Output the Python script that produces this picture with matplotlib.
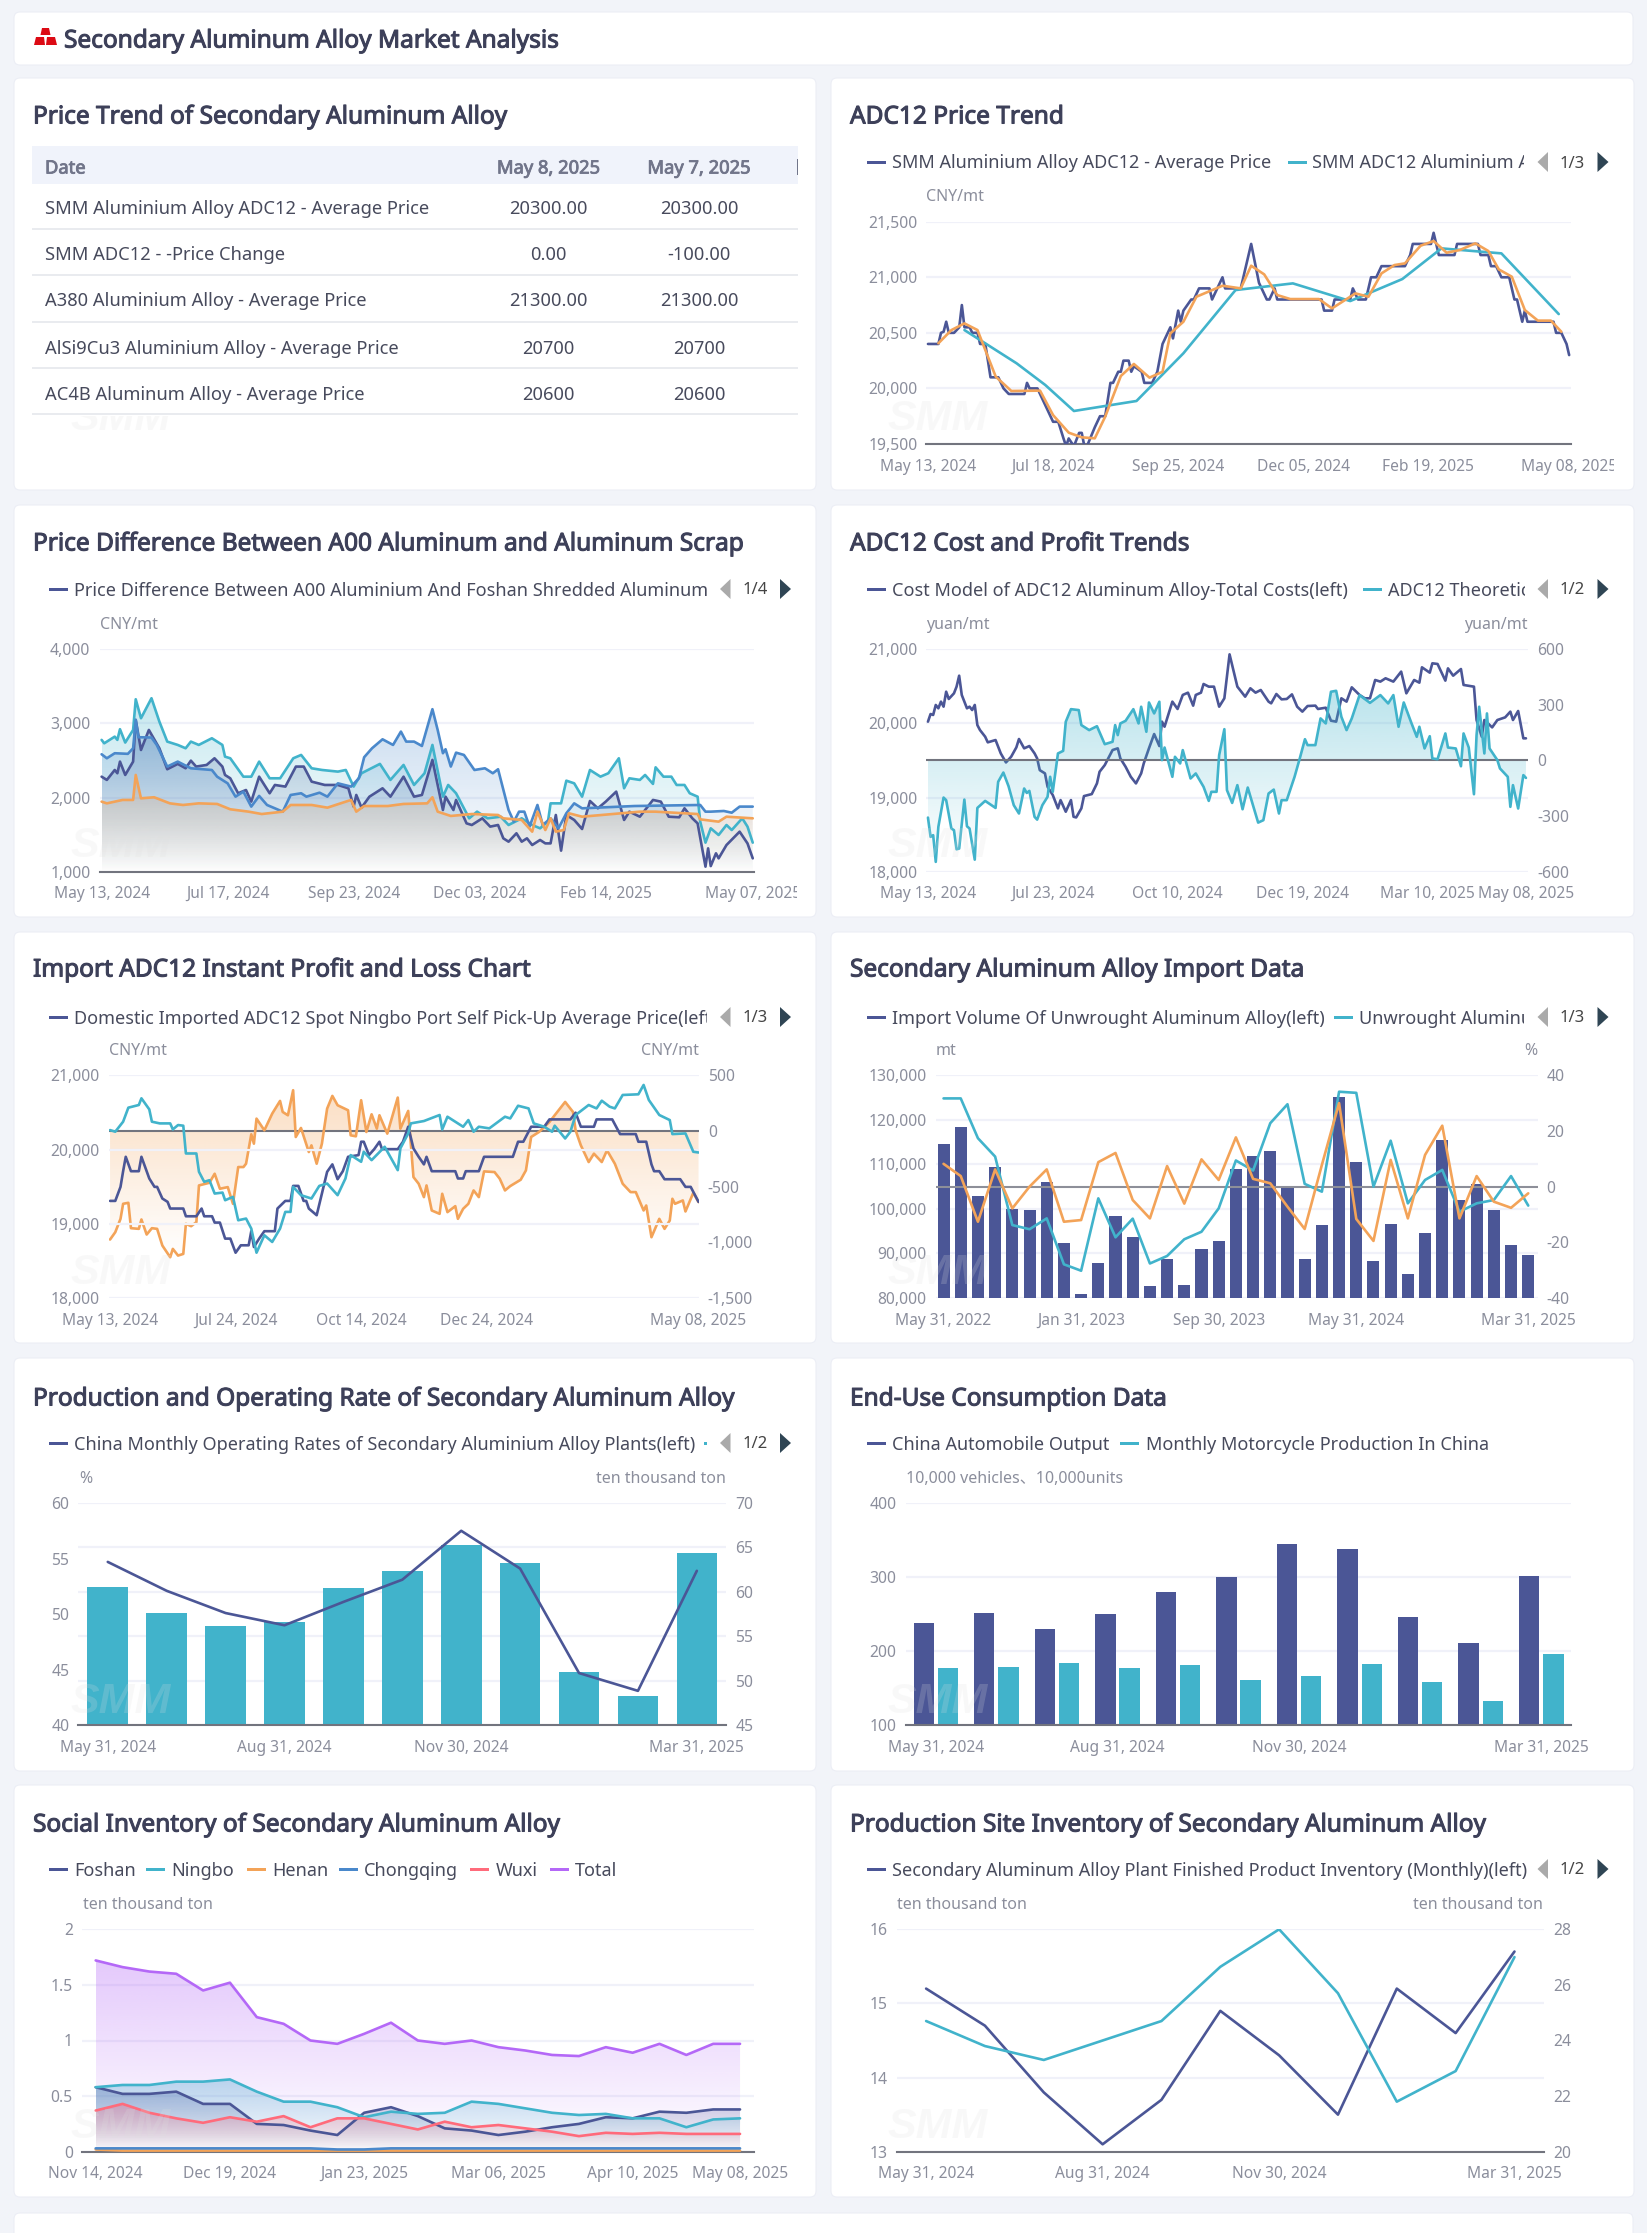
import numpy as np
import matplotlib
matplotlib.use("Agg")
import matplotlib.pyplot as plt
import matplotlib.patheffects as pe
from matplotlib.patches import FancyBboxPatch, Polygon, Rectangle
from matplotlib.colors import to_rgb
from matplotlib.transforms import Bbox

W, H = 1647, 2233
plt.rcParams['font.family'] = ['Noto Sans', 'Noto Sans CJK SC', 'DejaVu Sans']

NAVY = '#4b5696'
TEAL = '#41b3cb'
ORANGE = '#f3a358'
BLUE = '#4a88cb'
RED = '#ff6b7b'
PURPLE = '#b468f7'
GRID = '#f0f1f9'
AXIS = '#72747e'
TICK = '#8b8e9c'
TXT = '#474a5c'
TITLE = '#3d4059'

# table
table_head = ['Date', 'May 8, 2025', 'May 7, 2025']
table_names = ['SMM Aluminium Alloy ADC12 - Average Price', 'SMM ADC12 - -Price Change',
               'A380 Aluminium Alloy - Average Price', 'AlSi9Cu3 Aluminium Alloy - Average Price',
               'AC4B Aluminum Alloy - Average Price']
table_may8 = ['20300.00', '0.00', '21300.00', '20700', '20600']
table_may7 = ['20300.00', '-100.00', '21300.00', '20700', '20600']

# ADC12 price trend: (trading day, price)
c1_ticks = [0, 48, 96, 144, 192, 246]
c1_labels = ['May 13, 2024', 'Jul 18, 2024', 'Sep 25, 2024', 'Dec 05, 2024', 'Feb 19, 2025', 'May 08, 2025']
c1_daily = [(0,20400),(4,20400),(5,20500),(6,20510),(7,20600),(8,20500),(10,20500),(12,20550),(13,20750),(14,20550),(16,20550),(17,20500),(19,20500),(20,20400),(22,20400),(23,20250),(24,20100),(27,20100),(29,20000),(31,19950),(37,19950),(38,20050),(39,20000),(42,20000),(44,19900),(46,19800),(48,19700),(50,19700),(52,19550),(53,19480),(54,19550),(56,19480),(58,19600),(59,19600),(60,19480),(61,19480),(64,19650),(66,19750),(68,19750),(70,20050),(71,20050),(73,20150),(74,20150),(75,20250),(77,20250),(78,20150),(79,20200),(82,20150),(83,20050),(86,20050),(88,20150),(90,20400),(93,20550),(94,20450),(96,20700),(97,20600),(98,20700),(101,20800),(102,20800),(104,20900),(108,20900),(109,20800),(111,20900),(113,21000),(114,20900),(120,20900),(124,21300),(127,20950),(130,20800),(131,20800),(133,20900),(134,20800),(151,20800),(152,20700),(155,20700),(156,20800),(162,20800),(163,20900),(165,20800),(168,20800),(170,21000),(172,21000),(174,21100),(183,21100),(185,21200),(186,21300),(193,21300),(194,21400),(196,21200),(202,21200),(203,21300),(211,21300),(212,21200),(215,21200),(216,21100),(218,21100),(220,21000),(223,21000),(225,20800),(226,20800),(228,20600),(229,20700),(230,20600),(240,20600),(241,20500),(243,20500),(245,20400),(246,20300)]
c1_monthly = [(14,20525),(34,20226),(45,20031),(56,19797),(80,19887),(98,20316),(118,20885),(140,20945),(162,20786),(182,20984),(197,21260),(220,21215),(242,20669)]
c1_weekly = [(4,20406),(9,20525),(14,20585),(19,20525),(26,20106),(32,19977),(43,19980),(48,19760),(54,19602),(59,19560),(64,19551),(68,19746),(74,20112),(79,20220),(85,20097),(90,20150),(93,20495),(98,20600),(103,20825),(113,20924),(120,20900),(124,21104),(129,21026),(134,20840),(139,20804),(150,20804),(155,20720),(164,20855),(169,20825),(174,21035),(179,21110),(183,21125),(189,21284),(194,21326),(199,21221),(204,21245),(210,21305),(215,21236),(219,21071),(224,21005),(229,20705),(234,20610),(239,20610),(243,20510)]

# A00 vs scrap price difference
c2_ticks = [0, 48, 96, 144, 192, 248]
c2_labels = ['May 13, 2024', 'Jul 17, 2024', 'Sep 23, 2024', 'Dec 03, 2024', 'Feb 14, 2025', 'May 07, 2025']
c2_navy = [(0,2282),(2,2238),(5,2372),(6,2328),(7,2485),(9,2305),(12,2485),(13,3048),(15,2642),(18,2912),(22,2665),(25,2382),(29,2454),(32,2395),(34,2498),(36,2418),(40,2440),(43,2530),(46,2418),(47,2305),(49,2260),(52,2058),(55,2102),(57,1945),(60,2282),(64,2058),(66,2170),(70,2148),(74,2418),(77,2418),(80,2215),(85,2170),(90,2170),(94,2125),(96,1878),(97,2035),(99,1864),(102,2012),(107,2125),(110,2012),(115,2282),(119,2012),(122,2035),(126,2508),(130,1832),(131,2012),(134,1832),(135,1968),(139,1652),(141,1630),(145,1720),(148,1608),(151,1630),(153,1450),(155,1405),(158,1518),(160,1405),(162,1450),(164,1360),(167,1428),(169,1382),(171,1382),(173,1765),(175,1284),(177,1765),(180,1698),(183,1576),(186,1954),(189,1855),(192,1945),(196,2080),(199,1698),(201,1810),(205,1742),(210,1968),(213,1945),(216,1742),(220,1734),(222,1855),(225,1720),(227,1652),(230,1068),(231,1315),(232,1076),(234,1248),(235,1180),(238,1360),(243,1540),(246,1382),(248,1180)]
c2_teal = [(0,2778),(1,2732),(5,2822),(6,2778),(7,2922),(9,2742),(12,2912),(13,3326),(15,3070),(19,3340),(22,3025),(25,2755),(29,2710),(32,2665),(34,2755),(37,2710),(42,2800),(46,2710),(47,2552),(49,2530),(54,2282),(57,2282),(60,2485),(64,2260),(68,2260),(73,2530),(76,2575),(80,2395),(84,2372),(90,2350),(93,2372),(96,2148),(99,2328),(106,2454),(110,2238),(115,2440),(119,2170),(123,2328),(126,2710),(130,2012),(132,2170),(135,2058),(140,1720),(143,1810),(147,1720),(152,1742),(155,1630),(160,1720),(164,1630),(167,1585),(170,1675),(171,1922),(175,1922),(177,2228),(180,2192),(183,2012),(186,2372),(190,2282),(193,2328),(197,2530),(199,2125),(201,2260),(205,2238),(207,2305),(210,2184),(211,2408),(214,2282),(217,2282),(219,2170),(222,2170),(224,2058),(227,2012),(228,1675),(230,1392),(232,1585),(235,1495),(238,1630),(240,1562),(244,1720),(246,1608),(248,1392)]
c2_blue = [(0,2584),(2,2530),(5,2598),(10,2590),(12,2665),(13,3048),(14,2814),(19,2810),(21,2710),(25,2418),(29,2485),(34,2395),(42,2372),(44,2282),(48,2192),(51,2012),(54,2080),(57,1878),(60,2022),(63,1900),(69,1810),(72,2035),(76,2058),(78,2012),(83,2066),(86,2012),(90,2192),(95,2148),(98,2260),(100,2544),(103,2665),(107,2786),(111,2710),(114,2890),(116,2755),(119,2755),(122,2696),(126,3192),(128,2912),(130,2598),(131,2652),(133,2418),(135,2606),(138,2575),(142,2372),(146,2395),(149,2328),(151,2382),(155,1832),(157,1675),(159,1810),(161,1810),(163,1608),(166,1900),(168,1630),(171,1720),(174,1585),(177,1788),(180,1922),(183,1855),(203,1886),(228,1900),(230,1810),(232,1810),(237,1819),(240,1796),(243,1878),(248,1878)]
c2_orange = [(0,1945),(2,1922),(8,1968),(12,1968),(13,2305),(15,1990),(20,2004),(26,1922),(31,1900),(37,1922),(44,1914),(49,1842),(56,1810),(61,1778),(69,1810),(72,1900),(80,1900),(86,1864),(95,1968),(97,1810),(100,1886),(109,1886),(115,1914),(124,1922),(126,2004),(128,1810),(133,1752),(141,1778),(151,1765),(153,1720),(160,1698),(164,1540),(166,1810),(169,1562),(171,1720),(173,1540),(176,1562),(178,1788),(183,1742),(205,1810),(211,1810),(227,1778),(228,1706),(235,1675),(238,1742),(248,1720)]

# ADC12 cost and profit
c3_ticks = [0, 48, 96, 144, 192, 230]
c3_labels = ['May 13, 2024', 'Jul 23, 2024', 'Oct 10, 2024', 'Dec 19, 2024', 'Mar 10, 2025', 'May 08, 2025']
c3_cost = [(0,20024),(1,20127),(2,20114),(3,20249),(4,20204),(5,20294),(6,20226),(7,20428),(8,20330),(10,20406),(11,20496),(12,20644),(13,20384),(15,20204),(16,20226),(17,20181),(18,20249),(19,19978),(20,19911),(22,19821),(23,19745),(26,19776),(28,19596),(30,19474),(32,19551),(34,19677),(35,19790),(37,19664),(39,19695),(41,19596),(42,19528),(43,19370),(45,19326),(46,19146),(48,19034),(50,18854),(51,18966),(53,18809),(55,18966),(56,18741),(57,18732),(59,18854),(60,19020),(63,19047),(65,19191),(66,19348),(68,19438),(71,19641),(73,19664),(74,19528),(76,19416),(78,19281),(80,19191),(82,19326),(83,19461),(85,19664),(87,19857),(89,19695),(90,20024),(91,19956),(94,20294),(96,20195),(98,20384),(100,20415),(102,20240),(103,20384),(105,20415),(106,20532),(108,20496),(110,20496),(112,20226),(114,20339),(116,20932),(119,20496),(120,20451),(122,20361),(124,20474),(126,20415),(128,20451),(131,20294),(132,20271),(134,20397),(136,20325),(138,20330),(140,20392),(142,20226),(144,20159),(146,20235),(149,20240),(150,20195),(153,20212),(155,20037),(157,20024),(159,20339),(161,20294),(163,20487),(166,20384),(168,20339),(170,20339),(172,20586),(174,20564),(176,20609),(179,20564),(182,20699),(184,20406),(187,20586),(189,20550),(190,20757),(193,20685),(194,20811),(196,20802),(199,20577),(200,20743),(202,20644),(205,20734),(206,20519),(210,20496),(211,20046),(213,19821),(214,20046),(217,19947),(219,20046),(222,20082),(224,20159),(225,20046),(227,20168),(229,19799),(230,19799)]
c3_profit = [(0,-308),(1,-412),(2,-403),(3,-547),(4,-358),(6,-200),(7,-214),(9,-367),(10,-376),(11,-479),(12,-475),(14,-211),(15,-355),(16,-367),(18,-535),(19,-256),(22,-218),(26,-256),(27,-115),(29,-65),(31,-139),(33,-241),(35,-286),(37,-151),(38,-175),(39,-164),(41,-304),(42,-319),(44,-241),(46,-196),(47,-88),(48,-169),(50,38),(52,52),(53,209),(55,277),(58,272),(59,191),(62,164),(65,185),(68,88),(71,101),(72,191),(73,137),(74,200),(76,214),(79,277),(81,200),(82,290),(84,155),(85,313),(87,254),(89,317),(90,2),(91,70),(94,-88),(95,20),(97,-16),(98,56),(101,-97),(103,-70),(106,-142),(108,-218),(109,-169),(111,-169),(112,29),(114,169),(115,-160),(117,-229),(119,-133),(121,-263),(123,-146),(125,-241),(127,-335),(129,-322),(131,-178),(133,-157),(135,-286),(136,-214),(138,-214),(141,-88),(143,11),(145,115),(146,83),(149,83),(151,227),(153,200),(155,371),(157,376),(159,236),(161,164),(163,227),(166,353),(170,311),(174,353),(177,308),(179,353),(181,182),(183,313),(186,200),(188,128),(189,182),(191,65),(193,131),(194,11),(196,7),(199,146),(200,70),(203,65),(205,-31),(206,146),(208,70),(210,-182),(211,137),(212,290),(214,38),(215,254),(216,65),(219,2),(220,-43),(223,-88),(224,-250),(225,-133),(227,-259),(229,-79),(230,-94)]

# imported ADC12 profit and loss
c4_ticks = [0, 48, 96, 144, 225]
c4_labels = ['May 13, 2024', 'Jul 24, 2024', 'Oct 14, 2024', 'Dec 24, 2024', 'May 08, 2025']
c4_domestic = [(0,19308),(2,19308),(4,19497),(5,19708),(6,19902),(8,19708),(11,19708),(12,19902),(15,19610),(17,19497),(18,19497),(20,19340),(22,19295),(23,19205),(28,19205),(29,19101),(33,19101),(35,19205),(36,19101),(39,19101),(40,19016),(42,19016),(44,18800),(46,18800),(48,18610),(50,18710),(53,18710),(54,18900),(55,18687),(57,18800),(59,18900),(63,18900),(64,19205),(67,19308),(69,19308),(70,19510),(72,19510),(74,19308),(75,19308),(76,19205),(79,19115),(81,19407),(83,19700),(85,19800),(87,19600),(89,19708),(91,19902),(95,19925),(96,20105),(97,20105),(99,19925),(101,20005),(103,20105),(104,20005),(110,20005),(112,20105),(114,20307),(116,20015),(118,19902),(120,19800),(121,19902),(123,19708),(132,19708),(133,19610),(135,19610),(136,19708),(141,19708),(143,19902),(154,19902),(156,20105),(158,20105),(161,20307),(166,20307),(168,20406),(176,20406),(178,20496),(180,20307),(185,20307),(186,20406),(192,20406),(195,20208),(201,20208),(202,20105),(205,20105),(207,19800),(208,19708),(210,19708),(212,19600),(218,19600),(220,19497),(222,19497),(225,19295)]
c4_import = [(0,20262),(2,20240),(5,20375),(7,20564),(11,20600),(12,20690),(15,20541),(16,20375),(19,20352),(23,20352),(24,20271),(26,20330),(28,20321),(29,19947),(33,19947),(34,19700),(36,19565),(38,19587),(40,19407),(43,19420),(44,19317),(47,19362),(49,19047),(52,19070),(54,18935),(56,18610),(59,18845),(62,18755),(65,18935),(67,19160),(69,19160),(70,19497),(73,19385),(77,19340),(80,19510),(83,19542),(87,19385),(90,19610),(92,19925),(96,19835),(97,19970),(100,19857),(105,20037),(110,19722),(111,20015),(114,20217),(115,20352),(120,20384),(126,20465),(127,20271),(129,20442),(133,20352),(135,20307),(137,20397),(139,20240),(141,20307),(145,20285),(151,20442),(153,20419),(156,20590),(160,20554),(162,20352),(166,20307),(169,20240),(170,20321),(174,20149),(176,20240),(178,20465),(183,20600),(186,20554),(188,20658),(191,20577),(193,20554),(196,20735),(202,20744),(204,20870),(206,20667),(210,20465),(214,20397),(215,20208),(220,20217),(223,19970),(225,19960)]
c4_margin = [(0,-975),(2,-909),(4,-789),(5,-654),(7,-645),(8,-873),(11,-879),(12,-795),(14,-930),(16,-873),(18,-879),(20,-1029),(23,-1134),(24,-1059),(26,-1119),(28,-1104),(29,-834),(31,-855),(33,-819),(34,-489),(38,-465),(40,-384),(42,-519),(45,-504),(47,-654),(49,-324),(51,-324),(52,-294),(54,-30),(55,-114),(56,111),(59,6),(62,156),(65,270),(66,171),(68,141),(70,366),(71,-54),(73,27),(76,-189),(77,-129),(79,-294),(81,-114),(83,201),(85,315),(87,231),(91,186),(92,-39),(94,-48),(96,276),(98,-9),(100,150),(102,21),(103,141),(106,-24),(110,300),(111,21),(114,180),(116,-414),(118,-474),(120,-594),(121,-489),(123,-714),(126,-744),(127,-564),(129,-729),(132,-675),(133,-789),(135,-699),(137,-654),(139,-534),(141,-594),(143,-363),(147,-369),(149,-429),(151,-534),(153,-495),(157,-438),(159,-354),(161,-54),(164,-9),(168,81),(174,261),(177,171),(178,6),(180,-129),(183,-279),(185,-204),(188,-279),(190,-174),(193,-294),(196,-474),(199,-549),(201,-549),(204,-714),(205,-669),(207,-954),(210,-789),(212,-879),(214,-804),(215,-609),(216,-654),(219,-624),(220,-723),(223,-555),(225,-639)]

# secondary alloy imports
c5_ticks = [0, 8, 16, 24, 34]
c5_labels = ['May 31, 2022', 'Jan 31, 2023', 'Sep 30, 2023', 'May 31, 2024', 'Mar 31, 2025']
c5_volume = [114557,118380,103013,109310,100089,99864,105936,92368,80974,87946,98365,93643,82774,88695,82998,91019,92743,108935,111783,112907,104812,88695,96416,125200,110434,88321,96641,85322,94692,115381,101963,105636,99715,91919,89595]
c5_yoy = [31.7,31.7,17.4,10.8,-13.8,-15.3,-11.4,-27.9,-30.2,-4.2,-18.2,-11.5,-27.6,-24.9,-18.9,-16.2,-7.8,9.4,5.8,22.8,29.6,1.0,-1.8,34.1,33.7,0,16.5,-6.0,2.4,6.0,-9.0,-6.0,-4.8,3.8,-6.8]
c5_mom = [8.2,3.8,-12.6,6.2,-7.8,0,6.2,-12.6,-12.0,8.8,12.1,-4.8,-11.4,7.4,-6.1,9.8,2.4,17.7,2.8,1.2,-7.2,-15.2,7.8,30.0,-11.6,-19.5,9.6,-11.4,11.4,21.9,-11.4,3.8,-5.4,-7.6,-2.4]

# production and operating rate
month_ticks = [0, 3, 6, 10]
month_labels = ['May 31, 2024', 'Aug 31, 2024', 'Nov 30, 2024', 'Mar 31, 2025']
c6_output = [60.5,57.6,56.2,56.6,60.4,62.3,65.3,63.2,51.0,48.3,64.4]
c6_rate = [54.7,52.1,50.1,49.0,51.1,53.1,57.5,54.1,44.7,43.1,53.9]

# end use
c7_autos = [237.7,251.2,229.6,249.8,280.4,300.2,344.3,337.5,245.7,210.7,301.1]
c7_motos = [177.4,178.7,183.7,177.4,181,160.7,167,182.3,158,133.3,196.7]

# social inventory
c8_ticks = [0, 5, 10, 15, 20, 24]
c8_labels = ['Nov 14, 2024', 'Dec 19, 2024', 'Jan 23, 2025', 'Mar 06, 2025', 'Apr 10, 2025', 'May 08, 2025']
c8_total = [1.72,1.66,1.62,1.60,1.45,1.52,1.21,1.15,1.0,0.97,1.06,1.16,1.0,0.97,1.0,0.94,0.91,0.87,0.86,0.94,0.89,0.97,0.87,0.97,0.97]
c8_foshan = [0.58,0.52,0.52,0.54,0.43,0.43,0.25,0.24,0.19,0.15,0.35,0.40,0.32,0.21,0.19,0.15,0.18,0.22,0.25,0.31,0.30,0.36,0.35,0.38,0.38]
c8_ningbo = [0.58,0.60,0.60,0.63,0.63,0.65,0.54,0.45,0.45,0.40,0.31,0.36,0.34,0.35,0.45,0.43,0.39,0.35,0.33,0.34,0.30,0.30,0.22,0.29,0.30]
c8_wuxi = [0.37,0.43,0.35,0.30,0.26,0.31,0.27,0.32,0.22,0.30,0.30,0.25,0.20,0.27,0.22,0.24,0.21,0.18,0.14,0.17,0.16,0.17,0.16,0.16,0.16]
c8_chongqing = [0.03,0.03,0.03,0.03,0.03,0.03,0.03,0.03,0.03,0.02,0.02,0.03,0.03,0.03,0.03,0.03,0.03,0.03,0.03,0.03,0.03,0.03,0.03,0.03,0.03]
c8_henan = [0.02,0.01,0.01,0.01,0.01,0.01,0.01,0.01,0.01,0.01,0.01,0.01,0.01,0.01,0.01,0.01,0.01,0.01,0.01,0.01,0.01,0.01,0.01,0.01,0.01]

# plant inventory
c9_inventory = [15.2,14.7,13.8,13.1,13.7,14.9,14.3,13.5,15.2,14.6,15.7]
c9_other = [24.7,23.8,23.3,24.0,24.7,26.65,28.0,25.7,21.8,22.9,27.0]

fig = plt.figure(figsize=(W / 100, H / 100), dpi=100, facecolor='#f2f4f9')

bg = fig.add_axes([0, 0, 1, 1], zorder=-1)
bg.set_xlim(0, W)
bg.set_ylim(H, 0)
bg.axis('off')
top = fig.add_axes([0, 0, 1, 1], zorder=50)
top.set_xlim(0, W)
top.set_ylim(H, 0)
top.axis('off')
top.patch.set_visible(False)

# the bold cut of Noto Sans is not picked up, so thicken the regular one
HEAVY = [pe.withStroke(linewidth=0.75, foreground=TITLE)]
HEAVY_HEAD = [pe.withStroke(linewidth=0.6, foreground='#71758a')]


def card(x0, y0, x1, y1):
    bg.add_patch(FancyBboxPatch((x0, y0), x1 - x0, y1 - y0, boxstyle='round,pad=0,rounding_size=6',
                                fc='white', ec='#eceef5', lw=0.8))


def clip_x(t, x0, x1):
    # display coords are just pixels here, y is flipped
    t.set_clip_on(True)
    t.set_clip_box(Bbox([[x0, 0], [x1, H]]))


def legend(y, items, clip=None):
    for kx, col, tx, label in items:
        top.add_patch(Rectangle((kx, y - 1.5), 19, 3, fc=col, ec='none'))
        t = top.text(tx, y + 1.5, label, fontsize=13, color=TXT, va='center', ha='left')
        if clip:
            clip_x(t, tx, clip)


def pager(y, text, col):
    # col 0 left, col 1 right
    lx, cx, rx = (720, 755, 780) if col == 0 else (1537.5, 1572.5, 1597.5)
    top.add_patch(Polygon([[lx + 10.5, y - 10], [lx + 10.5, y + 10], [lx, y]], fc='#aaaaaa', ec='none'))
    top.add_patch(Polygon([[rx, y - 10], [rx, y + 10], [rx + 11, y]], fc='#2f4554', ec='none'))
    top.text(cx, y + 1.5, text, fontsize=12, color='#444444', ha='center', va='center')


def watermark(col, y, clip_y=None):
    x = 70 if col == 0 else 887
    t = top.text(x, y, 'SMM', family='Liberation Sans', fontsize=31, weight='bold', style='italic',
                 color='#e0e0e0', alpha=0.2, ha='left', va='top', zorder=20)
    if clip_y:
        t.set_clip_on(True)
        t.set_clip_box(Bbox([[0, 0], [W, H - clip_y]]))


def make_axes(x0, x1, ytop, ybot):
    ax = fig.add_axes([x0 / W, 1 - ybot / H, (x1 - x0) / W, (ybot - ytop) / H])
    ax.patch.set_visible(False)
    for s in ax.spines.values():
        s.set_visible(False)
    return ax


def y_axis(ax, lo, hi, ticks, labels=None, grid=True):
    ax.set_ylim(lo, hi)
    ax.set_yticks(ticks)
    ax.set_yticklabels(labels if labels else [f'{v:,}' for v in ticks])
    ax.tick_params(axis='y', length=0, labelsize=11.3, labelcolor=TICK, pad=6.5)
    if grid:
        ax.grid(axis='y', color=GRID, lw=1.6, zorder=0)
        ax.set_axisbelow(True)


def x_axis(ax, xlim, ticks, labels, clip=None):
    ax.set_xlim(*xlim)
    ax.set_xticks(ticks)
    ax.set_xticklabels(labels)
    ax.tick_params(axis='x', length=0, labelsize=11.2, labelcolor=TICK, pad=10.5)
    if clip:
        for lab in ax.get_xticklabels():
            clip_x(lab, 0, clip)


def grad_fill(ax, x, y, color, base, a_top):
    x = np.asarray(x, float)
    y = np.asarray(y, float)
    rgba = np.zeros((256, 1, 4))
    rgba[:, :, :3] = to_rgb(color)
    rgba[:, 0, 3] = np.linspace(a_top, 0, 256)
    hi, lo = max(y.max(), base), min(y.min(), base)
    im = ax.imshow(rgba, extent=[x[0], x[-1], lo, hi], origin='upper', aspect='auto', zorder=1.5,
                   interpolation='bilinear')
    verts = np.column_stack([np.r_[x[0], x, x[-1]], np.r_[base, y, base]])
    poly = Polygon(verts, transform=ax.transData, fc='none', ec='none')
    ax.add_patch(poly)
    im.set_clip_path(poly)


def line(ax, x, y, color, lw=1.9, z=3):
    ax.plot(x, y, color=color, lw=lw, zorder=z, solid_joinstyle='round', solid_capstyle='round')


def unzip(pairs):
    a = np.array(pairs, float)
    return a[:, 0], a[:, 1]


def unit(x, y, text, ha='left'):
    top.text(x, y + 1, text, fontsize=11.5, color=TICK, ha=ha, va='center')


# cards and titles
card(14, 12, 1633, 65)
rows = [(78, 490), (505, 917), (932, 1343), (1358, 1771), (1785, 2197)]
for r0, r1 in rows:
    card(14, r0, 816, r1)
    card(831, r0, 1634, r1)
card(14, 2213, 1633, 2260)

top.add_patch(Polygon([[42, 28], [49, 28], [50.5, 35], [40.5, 35]], fc='#dc0a14', ec='none'))
top.add_patch(Polygon([[36, 37], [44, 37], [45, 45], [34, 45]], fc='#dc0a14', ec='none'))
top.add_patch(Polygon([[47, 37], [55, 37], [57, 45], [46, 45]], fc='#dc0a14', ec='none'))
top.text(64, 41.5, 'Secondary Aluminum Alloy Market Analysis', fontsize=17.6, color=TITLE, va='center', path_effects=HEAVY)

titles = [(33, 116, 'Price Trend of Secondary Aluminum Alloy'), (850, 116, 'ADC12 Price Trend'),
          (33, 543, 'Price Difference Between A00 Aluminum and Aluminum Scrap'), (850, 543, 'ADC12 Cost and Profit Trends'),
          (33, 969, 'Import ADC12 Instant Profit and Loss Chart'), (850, 969, 'Secondary Aluminum Alloy Import Data'),
          (33, 1398, 'Production and Operating Rate of Secondary Aluminum Alloy'), (850, 1398, 'End-Use Consumption Data'),
          (33, 1824, 'Social Inventory of Secondary Aluminum Alloy'), (850, 1824, 'Production Site Inventory of Secondary Aluminum Alloy')]
for tx, ty, s in titles:
    top.text(tx, ty + 1.5, s, fontsize=17.6, color=TITLE, va='center', path_effects=HEAVY)

# table
top.add_patch(Rectangle((32, 146), 766, 38, fc='#f0f3fb', ec='none'))
top.text(45, 168.5, table_head[0], fontsize=13.2, color='#71758a', va='center', path_effects=HEAVY_HEAD)
top.text(548.5, 168.5, table_head[1], fontsize=13.2, color='#71758a', va='center', ha='center', path_effects=HEAVY_HEAD)
top.text(699, 168.5, table_head[2], fontsize=13.2, color='#71758a', va='center', ha='center', path_effects=HEAVY_HEAD)
top.add_patch(Rectangle((796.5, 159), 1.5, 16, fc='#71758a', ec='none'))
row_y = [208, 254, 300, 347, 393]
line_y = [229, 275, 322, 368, 414]
for i in range(5):
    top.text(45, row_y[i] + 1.5, table_names[i], fontsize=13.2, color=TXT, va='center')
    top.text(548.5, row_y[i] + 1.5, table_may8[i], fontsize=13.2, color=TXT, va='center', ha='center')
    top.text(699, row_y[i] + 1.5, table_may7[i], fontsize=13.2, color=TXT, va='center', ha='center')
    top.add_patch(Rectangle((32, line_y[i] - 0.75), 766, 1.5, fc='#e9ebef', ec='none'))
watermark(0, 399, clip_y=416)

# c1 price trend
ax = make_axes(926.4, 1571.5, 221.7, 444)
x, y = unzip(c1_daily)
line(ax, x, y, NAVY)
x, y = unzip(c1_monthly)
line(ax, x, y, TEAL)
x, y = unzip(c1_weekly)
line(ax, x, y, ORANGE)
y_axis(ax, 19500, 21500, [19500, 20000, 20500, 21000, 21500])
x_axis(ax, (-0.6, 246.9), c1_ticks, c1_labels, clip=1614)
ax.axhline(19500, color=AXIS, lw=1.5, clip_on=False, zorder=2)
legend(162, [(866.5, NAVY, 891.5, 'SMM Aluminium Alloy ADC12 - Average Price')])
legend(162, [(1287.5, TEAL, 1312.5, 'SMM ADC12 Aluminium A')], clip=1524)
pager(162, '1/3', 1)
unit(926, 196, 'CNY/mt')
watermark(1, 399)

# c2 price difference
ax = make_axes(99.5, 753.8, 649.3, 871.7)
for pairs, col in [(c2_navy, NAVY), (c2_teal, TEAL), (c2_orange, ORANGE), (c2_blue, BLUE)]:
    x, y = unzip(pairs)
    grad_fill(ax, x, y, col, 1000, 0.3)
for pairs, col in [(c2_navy, NAVY), (c2_teal, TEAL), (c2_blue, BLUE), (c2_orange, ORANGE)]:
    x, y = unzip(pairs)
    line(ax, x, y, col)
y_axis(ax, 1000, 4000, [1000, 2000, 3000, 4000])
x_axis(ax, (-0.8, 248.4), c2_ticks, c2_labels, clip=797)
ax.axhline(1000, color=AXIS, lw=1.5, clip_on=False, zorder=2)
legend(589, [(48.7, NAVY, 74, 'Price Difference Between A00 Aluminium And Foshan Shredded Aluminum T')], clip=707)
pager(589, '1/4', 0)
unit(100, 624, 'CNY/mt')
watermark(0, 826)

# c3 cost and profit
ax = make_axes(926.4, 1528.3, 649.3, 871.7)
ax2 = ax.twinx()
for s in ax2.spines.values():
    s.set_visible(False)
ax2.patch.set_visible(False)
x, y = unzip(c3_cost)
line(ax, x, y, NAVY)
x, y = unzip(c3_profit)
grad_fill(ax2, x, y, TEAL, 0, 0.36)
line(ax2, x, y, TEAL)
y_axis(ax, 18000, 21000, [18000, 19000, 20000, 21000])
y_axis(ax2, -600, 600, [-600, -300, 0, 300, 600], grid=False)
ax2.axhline(0, color=AXIS, lw=1.5, zorder=2)
x_axis(ax, (-0.6, 230.9), c3_ticks, c3_labels)
ax2.set_xlim(-0.6, 230.9)
legend(589, [(866.5, NAVY, 891.5, 'Cost Model of ADC12 Aluminum Alloy-Total Costs(left)')])
legend(589, [(1362.6, TEAL, 1387.6, 'ADC12 Theoretic')], clip=1524.6)
pager(589, '1/2', 1)
unit(926, 624, 'yuan/mt')
unit(1528, 624, 'yuan/mt', ha='right')
watermark(1, 826)

# c4 instant profit and loss
ax = make_axes(109, 698.8, 1075.3, 1298)
ax2 = ax.twinx()
for s in ax2.spines.values():
    s.set_visible(False)
ax2.patch.set_visible(False)
x, y = unzip(c4_domestic)
line(ax, x, y, NAVY)
x, y = unzip(c4_import)
line(ax, x, y, TEAL)
x, y = unzip(c4_margin)
grad_fill(ax2, x, y, ORANGE, 0, 0.36)
line(ax2, x, y, ORANGE, z=2.5)
y_axis(ax, 18000, 21000, [18000, 19000, 20000, 21000])
y_axis(ax2, -1500, 500, [-1500, -1000, -500, 0, 500], grid=False)
ax2.axhline(0, color=AXIS, lw=1.5, zorder=2)
x_axis(ax, (-0.4, 225.1), c4_ticks, c4_labels)
ax2.set_xlim(-0.4, 225.1)
ax.set_zorder(ax2.get_zorder() + 1)
legend(1017, [(48.7, NAVY, 74, 'Domestic Imported ADC12 Spot Ningbo Port Self Pick-Up Average Price(left')], clip=707)
pager(1017, '1/3', 0)
unit(109, 1050, 'CNY/mt')
unit(699, 1050, 'CNY/mt', ha='right')
watermark(0, 1253)

# c5 imports
ax = make_axes(935.8, 1537.7, 1075.3, 1298)
ax2 = ax.twinx()
for s in ax2.spines.values():
    s.set_visible(False)
ax2.patch.set_visible(False)
months = np.arange(len(c5_volume))
ax.bar(months, c5_volume, width=0.7, color=NAVY, zorder=2)
line(ax2, months, c5_yoy, TEAL)
line(ax2, months, c5_mom, ORANGE)
y_axis(ax, 80000, 130000, [80000, 90000, 100000, 110000, 120000, 130000])
y_axis(ax2, -40, 40, [-40, -20, 0, 20, 40], grid=False)
ax2.axhline(0, color='#8d8f99', lw=1.5, zorder=2)
x_axis(ax, (-0.45, 34.55), c5_ticks, c5_labels)
ax2.set_xlim(-0.45, 34.55)
legend(1017, [(866.5, NAVY, 891.5, 'Import Volume Of Unwrought Aluminum Alloy(left)')])
legend(1017, [(1334, TEAL, 1359, 'Unwrought Aluminu')], clip=1524)
pager(1017, '1/3', 1)
unit(936, 1050, 'mt')
unit(1537, 1050, '%', ha='right')
watermark(1, 1253)

# c6 production
ax = make_axes(78.3, 726.3, 1503, 1725.3)
ax2 = ax.twinx()
for s in ax2.spines.values():
    s.set_visible(False)
ax2.patch.set_visible(False)
months = np.arange(len(c6_output))
ax2.bar(months, c6_output, width=0.69, color=TEAL, zorder=2)
line(ax, months, c6_rate, NAVY)
y_axis(ax, 40, 60, [40, 45, 50, 55, 60], grid=False)
y_axis(ax2, 45, 70, [45, 50, 55, 60, 65, 70])
ax2.axhline(45, color=AXIS, lw=1.5, clip_on=False, zorder=3)
x_axis(ax, (-0.5, 10.5), month_ticks, month_labels)
ax2.set_xlim(-0.5, 10.5)
ax.set_zorder(ax2.get_zorder() + 1)
legend(1443, [(48.7, NAVY, 74, 'China Monthly Operating Rates of Secondary Aluminium Alloy Plants(left)')])
top.add_patch(Rectangle((704, 1441.5), 3, 3, fc=TEAL, ec='none'))
pager(1443, '1/2', 0)
unit(79, 1478, '%')
unit(726, 1478, 'ten thousand ton', ha='right')
watermark(0, 1682)

# c7 end use
ax = make_axes(905.6, 1571.5, 1503, 1725.3)
months = np.arange(len(c7_autos))
ax.bar(months - 0.2, c7_autos, width=0.336, color=NAVY, zorder=2)
ax.bar(months + 0.2, c7_motos, width=0.336, color=TEAL, zorder=2)
y_axis(ax, 100, 400, [100, 200, 300, 400])
ax.axhline(100, color=AXIS, lw=1.5, clip_on=False, zorder=3)
x_axis(ax, (-0.5, 10.5), month_ticks, month_labels)
legend(1443, [(866.5, NAVY, 891.5, 'China Automobile Output'), (1119.7, TEAL, 1145.8, 'Monthly Motorcycle Production In China')])
unit(905.6, 1478, '10,000 vehicles、10,000units')
watermark(1, 1682)

# c8 social inventory
ax = make_axes(82, 754, 1929.3, 2151.7)
weeks = np.arange(len(c8_total))
series8 = [(c8_foshan, NAVY), (c8_ningbo, TEAL), (c8_henan, ORANGE), (c8_chongqing, BLUE), (c8_wuxi, RED), (c8_total, PURPLE)]
for vals, col in series8:
    grad_fill(ax, weeks, vals, col, 0, 0.36)
for vals, col in series8:
    line(ax, weeks, vals, col)
y_axis(ax, 0, 2, [0, 0.5, 1, 1.5, 2], labels=['0', '0.5', '1', '1.5', '2'])
x_axis(ax, (-0.51, 24.52), c8_ticks, c8_labels)
ax.axhline(0, color=AXIS, lw=1.5, clip_on=False, zorder=2)
legend(1869, [(48.7, NAVY, 74, 'Foshan'), (146, TEAL, 171.5, 'Ningbo'), (247, ORANGE, 272.6, 'Henan'),
              (338.8, BLUE, 364, 'Chongqing'), (470, RED, 495.5, 'Wuxi'), (549.5, PURPLE, 575, 'Total')])
unit(82.6, 1904, 'ten thousand ton')
watermark(0, 2107)

# c9 plant inventory
ax = make_axes(896.7, 1543.9, 1929.3, 2151.7)
ax2 = ax.twinx()
for s in ax2.spines.values():
    s.set_visible(False)
ax2.patch.set_visible(False)
months = np.arange(len(c9_inventory))
line(ax, months, c9_inventory, NAVY)
line(ax2, months, c9_other, TEAL)
y_axis(ax, 13, 16, [13, 14, 15, 16])
y_axis(ax2, 20, 28, [20, 22, 24, 26, 28], grid=False)
ax.axhline(13, color=AXIS, lw=1.5, clip_on=False, zorder=2)
x_axis(ax, (-0.5, 10.5), month_ticks, month_labels)
ax2.set_xlim(-0.5, 10.5)
legend(1869, [(866.5, NAVY, 891.5, 'Secondary Aluminum Alloy Plant Finished Product Inventory (Monthly)(left)')])
pager(1869, '1/2', 1)
unit(897, 1904, 'ten thousand ton')
unit(1543, 1904, 'ten thousand ton', ha='right')
watermark(1, 2107)

fig.savefig('out.png', dpi=100, facecolor=fig.get_facecolor())
